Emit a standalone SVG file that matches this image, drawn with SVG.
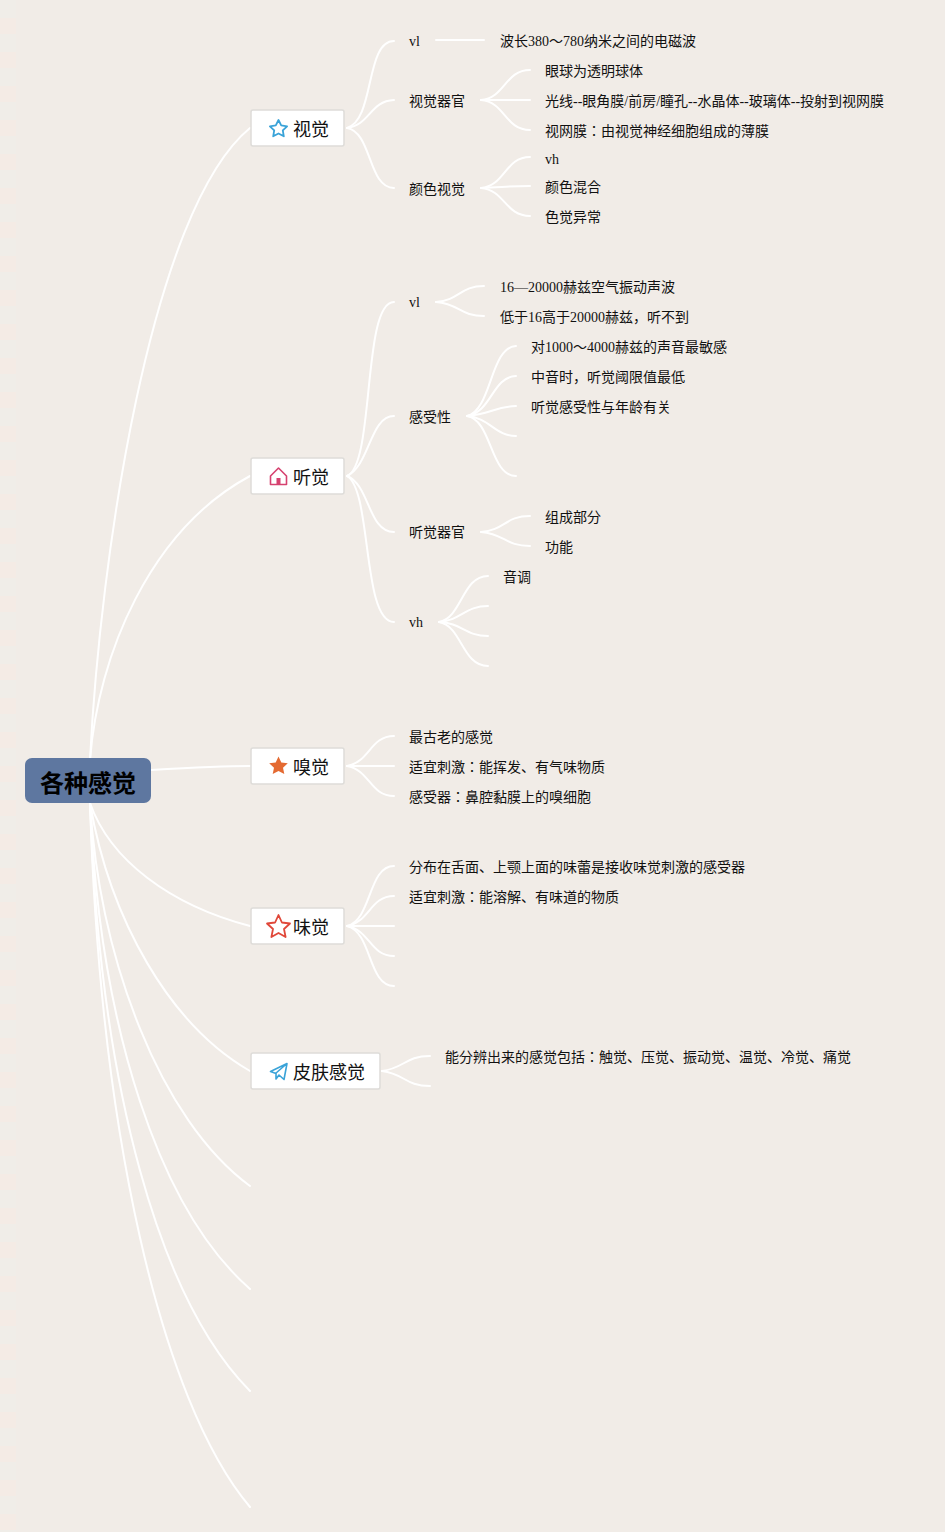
<svg xmlns="http://www.w3.org/2000/svg" width="945" height="1532" viewBox="0 0 945 1532">
<style>
text{font-family:"Liberation Serif","Noto Sans CJK JP",serif;font-size:14px;fill:#111}
.t{font-size:18px;font-family:"Noto Sans CJK JP","Liberation Sans",sans-serif;fill:#111}
.c path{fill:none;stroke:#fff;stroke-width:2;stroke-linecap:round}
.box{fill:#fff;stroke:#dedcd9;stroke-width:1.5}
</style>
<defs><pattern id="stripe" width="16" height="34" patternUnits="userSpaceOnUse"><rect width="16" height="18" fill="#f0ede8"/><rect y="18" width="16" height="16" fill="#f4ebe5"/></pattern></defs>
<rect width="945" height="1532" fill="#f1ece7"/>
<rect width="16" height="1532" fill="url(#stripe)"/>
<g class="c" id="connectors">
<path d="M90 760C100 560 150 210 250 128"/>
<path d="M90 760C98 655 150 530 250 476"/>
<path d="M151 770C185 768 220 766 250 766"/>
<path d="M90 803C110 860 170 905 250 926"/>
<path d="M90 803C110 920 170 1025 250 1071"/>
<path d="M90 803C100 960 160 1120 250 1186"/>
<path d="M90 803C100 1030 160 1210 250 1289"/>
<path d="M90 803C100 1090 160 1300 250 1391"/>
<path d="M90 803C100 1130 160 1400 250 1507"/>
<path d="M347 128C375 120 365 41 394 41"/>
<path d="M347 128C370 125 370 101 394 100"/>
<path d="M347 128C372 132 368 188 394 188"/>
<path d="M436 40H484"/>
<path d="M481 100C505 98 505 70 530 70"/>
<path d="M481 100H530"/>
<path d="M481 100C505 102 505 130 530 130"/>
<path d="M481 188C505 186 505 157 530 157"/>
<path d="M481 188C505 187 510 186 530 186"/>
<path d="M481 188C505 190 505 216 530 216"/>
<path d="M347 476C375 465 362 302 394 302"/>
<path d="M347 476C370 465 370 416 394 416"/>
<path d="M347 476C370 485 368 532 394 532"/>
<path d="M347 476C372 490 362 622 394 622"/>
<path d="M436 302C460 300 460 286 484 286"/>
<path d="M436 302C460 304 460 316 484 316"/>
<path d="M467 416C492 410 490 347 516 346"/>
<path d="M467 416C492 412 492 377 516 376"/>
<path d="M467 416C490 414 495 407 516 406"/>
<path d="M467 416C490 418 495 436 516 436"/>
<path d="M467 416C492 420 490 476 516 476"/>
<path d="M481 532C505 530 505 516 530 516"/>
<path d="M481 532C505 534 505 546 530 546"/>
<path d="M439 622C462 618 462 576 488 576"/>
<path d="M439 622C462 620 465 606 488 606"/>
<path d="M439 622C462 623 465 636 488 636"/>
<path d="M439 622C462 626 462 666 488 666"/>
<path d="M347 766C370 762 370 736 394 736"/>
<path d="M347 766H394"/>
<path d="M347 766C370 770 370 796 394 796"/>
<path d="M347 926C372 920 368 866 394 866"/>
<path d="M347 926C370 922 370 896 394 896"/>
<path d="M347 926H394"/>
<path d="M347 926C370 930 370 956 394 956"/>
<path d="M347 926C372 932 368 986 394 986"/>
<path d="M382 1071C405 1068 405 1056 430 1056"/>
<path d="M382 1071C405 1074 405 1086 430 1086"/>
</g>
<g id="root"><rect x="25" y="758" width="126" height="45" rx="7" fill="#5e77a0"/><text x="88" y="792" text-anchor="middle" style="font-size:24px;font-weight:700;font-family:'Noto Sans CJK JP',sans-serif;fill:#000">各种感觉</text></g>
<g id="n-vision"><rect class="box" x="251" y="110" width="93" height="36" rx="2"/><path d="M278.500 120l2.700 5.400 5.900.9-4.300 4.100 1 5.900-5.300-2.800-5.300 2.800 1-5.900-4.300-4.100 5.900-.9z" fill="none" stroke="#3aa3d8" stroke-width="1.800" stroke-linejoin="round"/><text class="t" x="293" y="136">视觉</text></g>
<g id="n-hearing"><rect class="box" x="251" y="458" width="93" height="36" rx="2"/><path d="M270.500 476l8-8 8 8v8.500h-16z" fill="none" stroke="#d6416f" stroke-width="1.600" stroke-linejoin="round"/><rect x="276.500" y="478" width="4" height="6.500" fill="#d6416f"/><text class="t" x="293" y="484">听觉</text></g>
<g id="n-smell"><rect class="box" x="251" y="748" width="93" height="36" rx="2"/><path d="M278.500 756.500l2.800 6 6.500.8-4.800 4.400 1.300 6.400-5.800-3.200-5.800 3.200 1.300-6.400-4.800-4.400 6.500-.8z" fill="#e46a32"/><text class="t" x="293" y="774">嗅觉</text></g>
<g id="n-taste"><rect class="box" x="251" y="908" width="93" height="36" rx="2"/><path d="M278.500 915l3.400 7.500 8.100 1-6 5.500 1.600 8-7.100-4-7.100 4 1.600-8-6-5.500 8.100-1z" fill="none" stroke="#e0483a" stroke-width="1.800" stroke-linejoin="round"/><text class="t" x="293" y="934">味觉</text></g>
<g id="n-skin"><rect class="box" x="251" y="1053" width="129" height="36" rx="2"/><path d="M270.500 1071.500l16.500-8-3 16-5-4.500-3 4v-5.500zM275.500 1073.500l11.500-10" fill="none" stroke="#3aa3d8" stroke-width="1.600" stroke-linejoin="round"/><text class="t" x="293" y="1079">皮肤感觉</text></g>
<g id="labels">
<text x="409" y="46">vl</text>
<text x="500" y="46">波长380～780纳米之间的电磁波</text>
<text x="409" y="106">视觉器官</text>
<text x="545" y="76">眼球为透明球体</text>
<text x="545" y="106">光线--眼角膜/前房/瞳孔--水晶体--玻璃体--投射到视网膜</text>
<text x="545" y="136">视网膜：由视觉神经细胞组成的薄膜</text>
<text x="409" y="194">颜色视觉</text>
<text x="545" y="164">vh</text>
<text x="545" y="192">颜色混合</text>
<text x="545" y="222">色觉异常</text>
<text x="409" y="307">vl</text>
<text x="500" y="292">16—20000赫兹空气振动声波</text>
<text x="500" y="322">低于16高于20000赫兹，听不到</text>
<text x="409" y="422">感受性</text>
<text x="531" y="352">对1000～4000赫兹的声音最敏感</text>
<text x="531" y="382">中音时，听觉阈限值最低</text>
<text x="531" y="412">听觉感受性与年龄有关</text>
<text x="409" y="537">听觉器官</text>
<text x="545" y="522">组成部分</text>
<text x="545" y="552">功能</text>
<text x="409" y="627">vh</text>
<text x="503" y="582">音调</text>
<text x="409" y="742">最古老的感觉</text>
<text x="409" y="772">适宜刺激：能挥发、有气味物质</text>
<text x="409" y="802">感受器：鼻腔黏膜上的嗅细胞</text>
<text x="409" y="872">分布在舌面、上颚上面的味蕾是接收味觉刺激的感受器</text>
<text x="409" y="902">适宜刺激：能溶解、有味道的物质</text>
<text x="445" y="1062">能分辨出来的感觉包括：触觉、压觉、振动觉、温觉、冷觉、痛觉</text>
</g>
</svg>
